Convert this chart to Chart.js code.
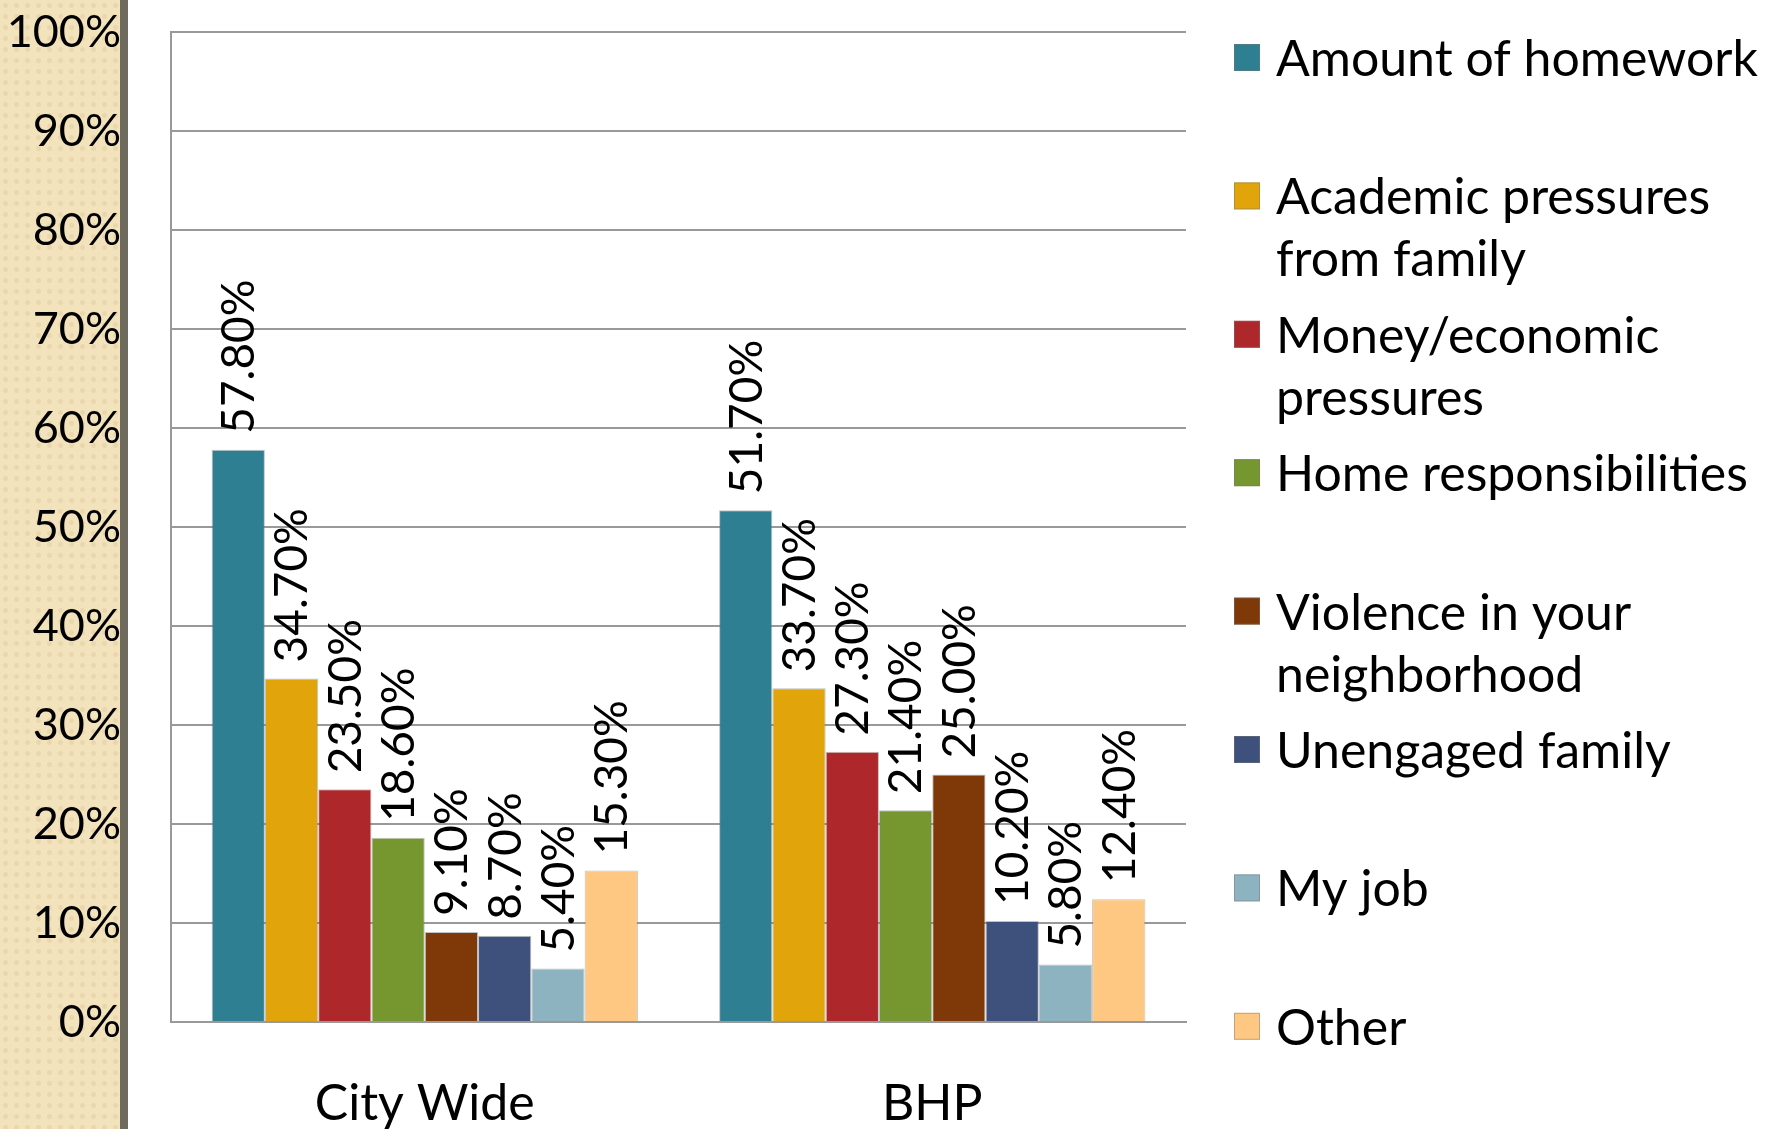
<!DOCTYPE html>
<html lang="en">
<head>
<meta charset="UTF-8">
<script src="https://cdn.jsdelivr.net/npm/chart.js"></script>
<style>
body {
    margin: 0;
    width: 1774px;
    height: 1129px;
    overflow: hidden;
    background: #fff;
    position: relative;
}
.strip {
    position: absolute;
    left: 0;
    top: 0;
    width: 120px;
    height: 1129px;
    background-color: #f3e3bd;
    background-image: radial-gradient(circle, rgba(225,205,160,0.55) 2px, transparent 3px);
    background-size: 11px 11px;
    border-right: 8px solid #6e6a5e;
}
#chart {
    position: absolute;
    left: 0;
    top: 0;
}
</style>
</head>
<body>
<div class="strip"></div>
<canvas id="chart" width="1774" height="1129"></canvas>
<script>
const categories = ['City Wide', 'BHP'];
const seriesNames = [
    'Amount of homework',
    'Academic pressures from family',
    'Money/economic pressures',
    'Home responsibilities',
    'Violence in your neighborhood',
    'Unengaged family',
    'My job',
    'Other'
];
// legend text broken the way the picture wraps it
const legendLines = [
    ['Amount of homework'],
    ['Academic pressures', 'from family'],
    ['Money/economic', 'pressures'],
    ['Home responsibilities'],
    ['Violence in your', 'neighborhood'],
    ['Unengaged family'],
    ['My job'],
    ['Other']
];
const cityWide = [57.8, 34.7, 23.5, 18.6, 9.1, 8.7, 5.4, 15.3];
const bhp = [51.7, 33.7, 27.3, 21.4, 25.0, 10.2, 5.8, 12.4];
const colors = ['#2f7f93', '#e1a40b', '#ae282b', '#76962f', '#7f3807', '#3e507c', '#8db3c1', '#fec882'];

const FONT = 'Lato, "Open Sans", sans-serif';

let datasets = [];
for (let i = 0; i < seriesNames.length; i++) {
    datasets.push({
        label: seriesNames[i],
        data: [cityWide[i], bhp[i]],
        backgroundColor: colors[i],
        borderColor: 'rgba(120,120,120,0.45)',
        borderWidth: 1
    });
}

// value labels, turned on their side above each bar
const barLabels = {
    id: 'barLabels',
    afterDatasetsDraw(chart) {
        const ctx = chart.ctx;
        ctx.save();
        ctx.font = '46px ' + FONT;
        ctx.fillStyle = '#000';
        ctx.textAlign = 'left';
        ctx.textBaseline = 'middle';
        chart.data.datasets.forEach((ds, i) => {
            chart.getDatasetMeta(i).data.forEach((bar, j) => {
                ctx.save();
                ctx.translate(bar.x + 1, bar.y - 16);
                ctx.rotate(-Math.PI / 2);
                ctx.fillText(ds.data[j].toFixed(2) + '%', 0, 0);
                ctx.restore();
            });
        });
        ctx.restore();
    }
};

// legend on the right, one fixed slot per series
const sideLegend = {
    id: 'sideLegend',
    afterDraw(chart) {
        const ctx = chart.ctx;
        const area = chart.chartArea;
        const mx = area.right + 48;
        const tx = mx + 42;
        ctx.save();
        ctx.font = '50px ' + FONT;
        ctx.textAlign = 'left';
        ctx.textBaseline = 'alphabetic';
        legendLines.forEach((lines, i) => {
            const base = area.top + 44 + i * 138.4;
            ctx.fillStyle = colors[i];
            ctx.fillRect(mx, base - 32, 26, 27);
            ctx.strokeStyle = 'rgba(120,120,120,0.45)';
            ctx.lineWidth = 1;
            ctx.strokeRect(mx + 0.5, base - 31.5, 25, 26);
            ctx.fillStyle = '#000';
            lines.forEach((t, k) => ctx.fillText(t, tx, base + k * 62));
        });
        ctx.restore();
    }
};

new Chart(document.getElementById('chart'), {
    type: 'bar',
    data: { labels: categories, datasets: datasets },
    options: {
        responsive: false,
        animation: false,
        devicePixelRatio: 1,
        layout: { padding: { left: 0, top: 32, right: 588, bottom: 0 } },
        plugins: {
            legend: { display: false },
            tooltip: { enabled: false }
        },
        datasets: {
            bar: { barPercentage: 1, categoryPercentage: 0.84 }
        },
        scales: {
            x: {
                grid: { display: false },
                border: { color: '#999', width: 2 },
                ticks: { color: '#000', font: { family: FONT, size: 50 }, padding: 44 },
                afterFit(scale) { scale.height = 107; }
            },
            y: {
                min: 0,
                max: 100,
                ticks: {
                    stepSize: 10,
                    color: '#000',
                    padding: 50,
                    font: { family: FONT, size: 45 },
                    callback: v => v + '%'
                },
                grid: { color: '#999', lineWidth: 2, drawTicks: false },
                border: { color: '#999', width: 2 },
                afterFit(scale) {
                    scale.width = 171;
                    scale.paddingTop = 0;
                    scale.paddingBottom = 0;
                }
            }
        }
    },
    plugins: [barLabels, sideLegend]
});
</script>
</body>
</html>
